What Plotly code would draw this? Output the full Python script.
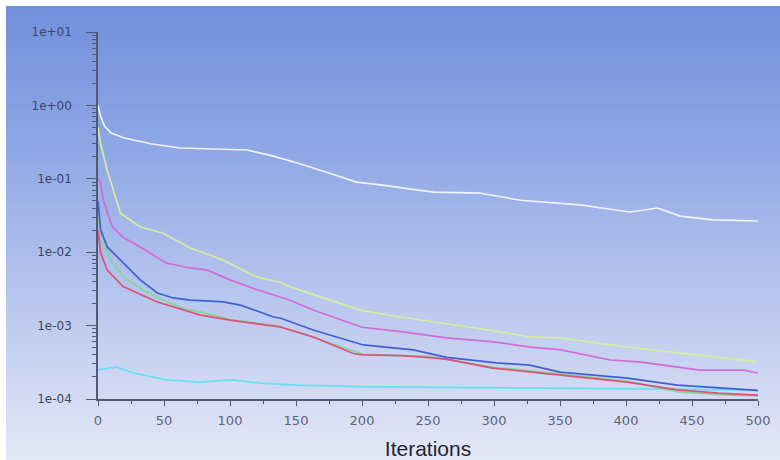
import plotly.graph_objects as go

# ---- data (iteration, residual) ----
it_cont = [0, 2, 5, 10, 20, 40, 62, 90, 113, 130, 151, 175, 196, 214, 254, 289, 320, 365, 403, 424, 441, 466, 500]
res_cont = [1.0, 0.7, 0.52, 0.42, 0.36, 0.30, 0.263, 0.255, 0.247, 0.21, 0.164, 0.12, 0.090, 0.0825, 0.066, 0.064,
            0.051, 0.044, 0.0353, 0.040, 0.031, 0.0275, 0.0266]

it_eps = [0, 2, 7, 17, 32, 49, 70, 95, 120, 138, 145, 176, 200, 230, 264, 297, 327, 350, 401, 451, 500]
res_eps = [0.5, 0.3, 0.13, 0.034, 0.022, 0.0183, 0.0114, 0.0078, 0.0046, 0.0039, 0.0034, 0.00223, 0.0016, 0.0013,
           0.00105, 8.7e-4, 7.0e-4, 6.8e-4, 5.1e-4, 4.0e-4, 3.2e-4]

it_k = [0, 2, 4, 11, 19, 32, 52, 70, 83, 100, 120, 138, 145, 163, 200, 230, 264, 300, 327, 350, 388, 410, 439, 456, 489, 500]
res_k = [0.1, 0.088, 0.051, 0.022, 0.016, 0.0118, 0.0071, 0.0061, 0.0057, 0.0042, 0.0031, 0.00245, 0.00223, 0.00163,
         9.5e-4, 8.3e-4, 6.8e-4, 6.0e-4, 5.1e-4, 4.7e-4, 3.4e-4, 3.2e-4, 2.73e-4, 2.48e-4, 2.48e-4, 2.26e-4]

it_z = [0, 2, 7, 19, 32, 45, 57, 70, 95, 108, 133, 138, 163, 201, 239, 264, 302, 327, 350, 401, 439, 494, 500]
res_z = [0.05, 0.020, 0.0118, 0.0071, 0.0042, 0.00278, 0.00238, 0.00223, 0.0021, 0.0019, 0.00131, 0.00127, 8.7e-4,
         5.45e-4, 4.66e-4, 3.7e-4, 3.1e-4, 2.9e-4, 2.33e-4, 1.93e-4, 1.55e-4, 1.33e-4, 1.3e-4]

it_x = [0, 2, 7, 19, 45, 65, 77, 100, 138, 163, 193, 200, 230, 249, 264, 299, 350, 401, 439, 470, 500]
res_x = [0.02, 0.0098, 0.0057, 0.0034, 0.0021, 0.00163, 0.0014, 0.00119, 9.6e-4, 7.0e-4, 4.2e-4, 4.0e-4, 3.9e-4,
         3.7e-4, 3.5e-4, 2.64e-4, 2.1e-4, 1.7e-4, 1.33e-4, 1.2e-4, 1.13e-4]

it_y = [0, 3, 10, 20, 35, 50, 65, 80, 100, 138, 163, 200, 250, 300, 350, 400, 440, 470, 500]
res_y = [0.03, 0.015, 0.0075, 0.0045, 0.0030, 0.0022, 0.0017, 0.0015, 0.00122, 9.6e-4, 7.0e-4, 4.1e-4, 3.8e-4,
         2.7e-4, 2.2e-4, 1.75e-4, 1.25e-4, 1.15e-4, 1.1e-4]

it_en = [0, 5, 14, 27, 52, 77, 102, 123, 150, 200, 250, 300, 350, 400, 450, 500]
res_en = [2.5e-4, 2.6e-4, 2.73e-4, 2.26e-4, 1.82e-4, 1.7e-4, 1.82e-4, 1.65e-4, 1.55e-4, 1.47e-4, 1.45e-4, 1.42e-4,
          1.40e-4, 1.38e-4, 1.35e-4, 1.32e-4]

y_tickvals = [1e-4, 1e-3, 1e-2, 1e-1, 1e0, 1e1]
y_ticktext = ["1e-04", "1e-03", "1e-02", "1e-01", "1e+00", "1e+01"]

series = [
    ("energy", it_en, res_en, "#66e0f0"),
    ("y-velocity", it_y, res_y, "#86d496"),
    ("x-velocity", it_x, res_x, "#de5078"),
    ("z-velocity", it_z, res_z, "#3f5fd2"),
    ("k", it_k, res_k, "#d46ad6"),
    ("epsilon", it_eps, res_eps, "#d6eca0"),
    ("continuity", it_cont, res_cont, "#eef3ff"),
]

fig = go.Figure()
for name, xs, ys, col in series:
    fig.add_trace(go.Scatter(x=xs, y=ys, mode="lines", name=name,
                             line=dict(color=col, width=1.7)))

# ---- background gradient (paper coords) ----
W, H = 780, 460
L, R, T, B = 98, 22, 32, 61
pw, ph = W - L - R, H - T - B
def px2x(px):
    return (px - L) / pw
def py2y(py):
    return (H - B - py) / ph

stops = [(6, (113, 143, 220)), (150, (143, 167, 229)), (300, (184, 199, 238)), (460, (228, 231, 247))]
def col_at(py):
    for (a, ca), (b, cb) in zip(stops[:-1], stops[1:]):
        if a <= py <= b:
            t = (py - a) / (b - a)
            return tuple(round(ca[i] + (cb[i] - ca[i]) * t) for i in range(3))
    return stops[-1][1]

shapes = []
n = 114
for i in range(n):
    y0p = 6 + i * (H - 6) / n
    y1p = 6 + (i + 1) * (H - 6) / n
    if i == n - 1:
        y1p = H + 20
    c = col_at(min((y0p + y1p) / 2, H))
    shapes.append(dict(type="rect", xref="paper", yref="paper", layer="below",
                       x0=px2x(6), x1=px2x(W + 20), y0=py2y(y1p + 2.5), y1=py2y(y0p),
                       fillcolor="rgb(%d,%d,%d)" % c, line=dict(width=0)))

css_grad = "linear-gradient(to bottom, #ffffff 0px, #ffffff 6px, " + ", ".join(
    "rgb(%d,%d,%d) %dpx" % (c[0], c[1], c[2], p) for p, c in stops) + ")"

axis_col = "#505a72"
fig.update_layout(
    width=W, height=H,
    margin=dict(l=L, r=R, t=T, b=B, autoexpand=False),
    paper_bgcolor="white",
    plot_bgcolor="rgba(0,0,0,0)",
    showlegend=False,
    shapes=shapes,
    font=dict(family="DejaVu Sans, Verdana, sans-serif"),
    xaxis=dict(
        range=[0, 500], dtick=50, tick0=0, showgrid=False, zeroline=False, automargin=False,
        showline=True, linecolor=axis_col, linewidth=1.5,
        ticks="outside", ticklen=5, tickcolor=axis_col, tickwidth=1,
        minor=dict(dtick=25, ticks="outside", ticklen=3, tickcolor=axis_col, showgrid=False),
        tickfont=dict(size=13, color="#5a6478"),
        ticklabelstandoff=4,
        title=dict(text="Iterations", font=dict(family="Liberation Sans, Arial, sans-serif", size=21, color="#1e2432"),
                   standoff=16),
    ),
    yaxis=dict(
        type="log", range=[-4, 1], showgrid=False, zeroline=False, automargin=False,
        tickmode="array", tickvals=y_tickvals, ticktext=y_ticktext,
        showline=True, linecolor=axis_col, linewidth=1.5,
        ticks="outside", ticklen=10, tickcolor=axis_col, tickwidth=1,
        minor=dict(tickmode="array",
                   tickvals=[k * 10 ** e for e in range(-4, 1) for k in range(2, 10)],
                   ticks="outside", ticklen=4, tickcolor=axis_col, showgrid=False),
        tickfont=dict(size=12, color="#3c4660"),
        ticklabelstandoff=12,
    ),
)

fig.write_html("out.html", config={"displayModeBar": False},
               post_script="document.body.style.margin='0';document.body.style.overflow='hidden';"
                           "document.body.style.background='" + css_grad + "';")
